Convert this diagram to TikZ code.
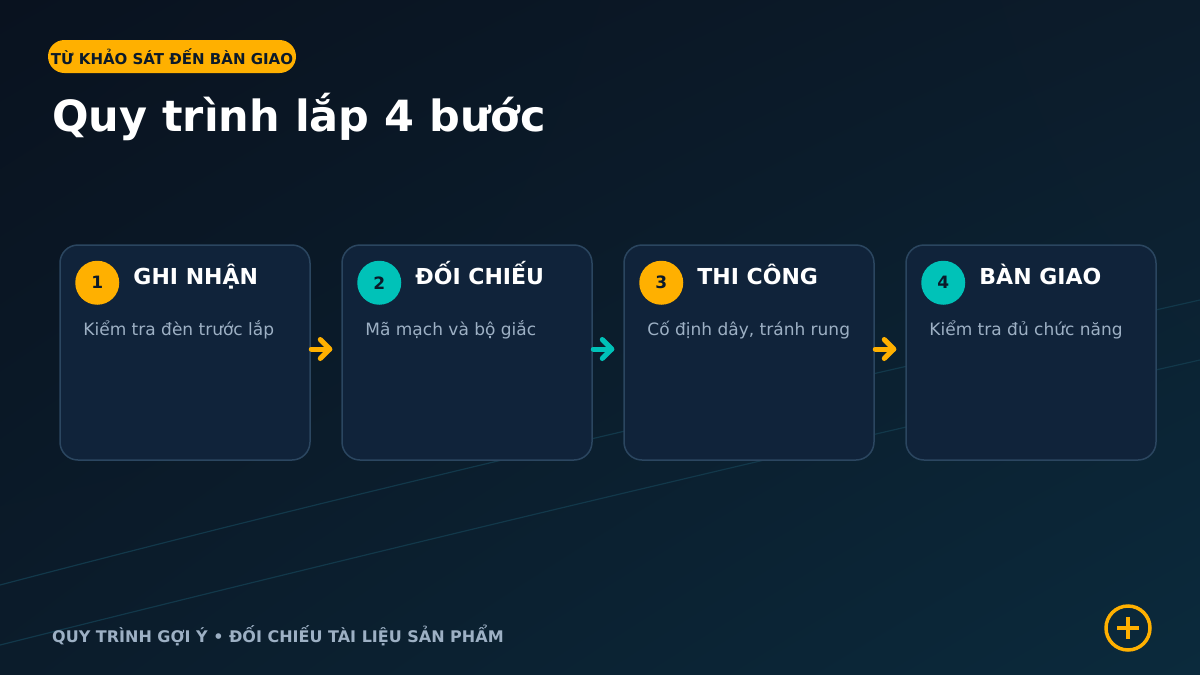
\documentclass[tikz,border=0pt]{standalone}
\usepackage{fontspec}
\setmainfont{DejaVu Sans}
\usetikzlibrary{calc,shadings}
\definecolor{amber}{HTML}{FFB000}
\definecolor{teal2}{HTML}{00C2B8}
\definecolor{cardfill}{HTML}{10233A}
\definecolor{cardline}{HTML}{2B4660}
\definecolor{desc}{HTML}{9DB0C4}
\definecolor{darktxt}{HTML}{0B1A2A}
\definecolor{bgtl}{HTML}{09121F}
\definecolor{bgtr}{HTML}{0C1C2B}
\definecolor{bgbl}{HTML}{0B1C2B}
\definecolor{bgbr}{HTML}{0B2A3C}
\definecolor{streak}{HTML}{12384A}
\tikzset{
  card/.style={draw=cardline, line width=1.5pt, fill=cardfill, rounded corners=18pt, minimum width=250pt, minimum height=215pt, inner sep=0pt},
  numdot/.style={circle, minimum size=44pt, inner sep=0pt, font=\bfseries\fontsize{17}{17}\selectfont, text=darktxt},
  cardtitle/.style={anchor=base west, inner sep=0pt, text=white, font=\bfseries\fontsize{22}{22}\selectfont},
  cardtext/.style={anchor=base west, inner sep=0pt, text=desc, font=\fontsize{17}{18}\selectfont},
  flow/.style={line width=5pt, line cap=round, line join=round},
}
\begin{document}
\begin{tikzpicture}[x=1pt,y=-1pt]
\useasboundingbox (0,0) rectangle (1200,675);
\shade[upper left=bgtl, upper right=bgtr, lower left=bgbl, lower right=bgbr] (0,0) rectangle (1200,675);
% faint streaks
\draw[streak, line width=1.2pt] (0,585) .. controls (400,480) and (800,390) .. (1200,300);
\draw[streak, line width=1.2pt] (0,645) .. controls (400,545) and (800,450) .. (1200,360);
% badge
\node[fill=amber, rounded corners=16.5pt, minimum width=248pt, minimum height=33pt, inner sep=0pt, text=darktxt, font=\bfseries\fontsize{15}{15}\selectfont] (badge) at (172,56.5) {TỪ KHẢO SÁT ĐẾN BÀN GIAO};
% title
\node[anchor=base west, inner sep=0pt, text=white, font=\bfseries\fontsize{43}{45}\selectfont] (title) at (52,131) {Quy trình lắp 4 bước};
% cards
\foreach \i/\x/\c/\t/\d in {1/185/amber/GHI NHẬN/Kiểm tra đèn trước lắp, 2/467/teal2/ĐỐI CHIẾU/Mã mạch và bộ giắc, 3/749/amber/THI CÔNG/Cố định dây{,} tránh rung, 4/1031/teal2/BÀN GIAO/Kiểm tra đủ chức năng}{
  \node[card] (c\i) at (\x,352.5) {};
  \node[numdot, fill=\c] (n\i) at ($(c\i.north west)+(38,38.5)$) {\i};
  \node[cardtitle] (t\i) at ($(c\i.north west)+(74,40.5)$) {\t};
  \node[cardtext] (d\i) at ($(c\i.north west)+(24,91)$) {\d};
}
% arrows between cards
\foreach \a/\b/\c in {1/2/amber, 2/3/teal2, 3/4/amber}{
  \coordinate (s\a) at ($(c\a.east)+(0.5,-3.5)$);
  \coordinate (e\a) at ($(c\b.west)+(-11.5,-3.5)$);
  \draw[flow, \c] (s\a) -- (e\a);
  \draw[flow, \c] ($(e\a)+(-9.5,-9.5)$) -- (e\a) -- ($(e\a)+(-9.5,9.5)$);
}
% footer
\node[anchor=base west, inner sep=0pt, text=desc, font=\bfseries\fontsize{16}{16}\selectfont] (footer) at (52,642) {QUY TRÌNH GỢI Ý • ĐỐI CHIẾU TÀI LIỆU SẢN PHẨM};
% plus icon
\node[circle, draw=amber, line width=3.5pt, minimum size=44pt, inner sep=0pt] (plus) at (1128,628) {};
\draw[amber, line width=3.5pt] ($(plus.center)+(-11,0)$) -- ($(plus.center)+(11,0)$);
\draw[amber, line width=3.5pt] ($(plus.center)+(0,-11)$) -- ($(plus.center)+(0,11)$);
\end{tikzpicture}
\end{document}
